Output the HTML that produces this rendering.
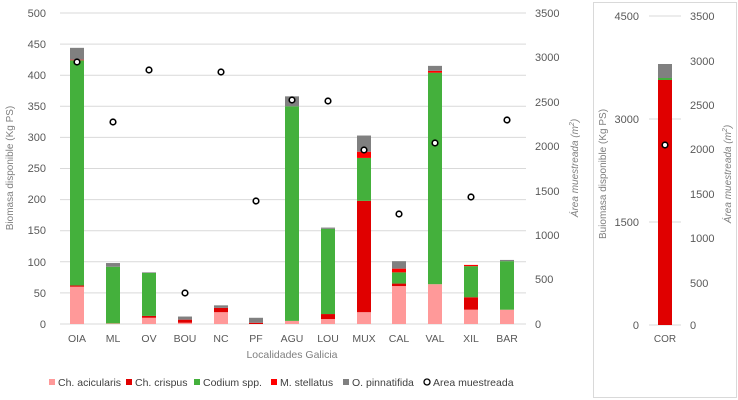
<!DOCTYPE html>
<html><head><meta charset="utf-8">
<style>
html,body{margin:0;padding:0;background:#fff;}
svg{display:block;font-family:"Liberation Sans",sans-serif;}
</style></head><body>
<svg id="s" width="738" height="400" viewBox="0 0 738 400" xmlns="http://www.w3.org/2000/svg">
<rect x="0" y="0" width="738" height="400" fill="#fff"/>
<g id="grid" stroke="#d9d9d9" stroke-width="1"></g>
<g id="bars"></g>
<g id="dots" fill="#fff" stroke="#000" stroke-width="1.6"></g>
<g font-size="11" fill="#595959" text-anchor="end">
<text x="46" y="17">500</text><text x="46" y="48">450</text><text x="46" y="79">400</text>
<text x="46" y="110">350</text><text x="46" y="141">300</text><text x="46" y="172">250</text>
<text x="46" y="203">200</text><text x="46" y="234">150</text><text x="46" y="266">100</text>
<text x="46" y="297">50</text><text x="46" y="328">0</text>
</g>
<g font-size="11" fill="#595959" text-anchor="start">
<text x="535" y="17">3500</text><text x="535" y="61">3000</text><text x="535" y="106">2500</text>
<text x="535" y="150">2000</text><text x="535" y="195">1500</text><text x="535" y="239">1000</text>
<text x="535" y="283">500</text><text x="535" y="328">0</text>
</g>
<g font-size="10.5" fill="#595959" text-anchor="middle">
<text x="77" y="342">OIA</text><text x="113" y="342">ML</text><text x="149" y="342">OV</text>
<text x="185" y="342">BOU</text><text x="221" y="342">NC</text><text x="256" y="342">PF</text>
<text x="292" y="342">AGU</text><text x="328" y="342">LOU</text><text x="364" y="342">MUX</text>
<text x="399" y="342">CAL</text><text x="435" y="342">VAL</text><text x="471" y="342">XIL</text>
<text x="507" y="342">BAR</text>
<text x="292" y="358" font-size="10.5" fill="#7f7f7f">Localidades Galicia</text>
</g>
<text transform="translate(13,168) rotate(-90)" font-size="10" fill="#7f7f7f" text-anchor="middle">Biomasa disponible (Kg PS)</text>
<text transform="translate(578,168) rotate(-90)" font-size="10" fill="#7f7f7f" text-anchor="middle" font-style="italic">Área muestreada (m<tspan font-size="7" dy="-4">2</tspan><tspan dy="4">)</tspan></text>
<!-- legend -->
<g font-size="10.5" fill="#404040">
<rect x="49" y="379" width="6" height="6" fill="#ff9999"/><text x="58" y="386">Ch. acicularis</text>
<rect x="126" y="379" width="6" height="6" fill="#e00000"/><text x="135" y="386">Ch. crispus</text>
<rect x="194" y="379" width="6" height="6" fill="#44b03c"/><text x="203" y="386">Codium spp.</text>
<rect x="271" y="379" width="6" height="6" fill="#ff0000"/><text x="280" y="386">M. stellatus</text>
<rect x="343" y="379" width="6" height="6" fill="#808080"/><text x="352" y="386">O. pinnatifida</text>
<circle cx="427" cy="382" r="3" fill="#fff" stroke="#000" stroke-width="1.3"/><text x="433" y="386">Area muestreada</text>
</g>
<!-- right panel -->
<rect x="593.5" y="2.5" width="143" height="395" fill="none" stroke="#d9d9d9"/>
<g stroke="#d9d9d9"><line x1="649" x2="681" y1="16" y2="16"/><line x1="649" x2="681" y1="119" y2="119"/><line x1="649" x2="681" y1="222" y2="222"/><line x1="649" x2="681" y1="325" y2="325"/></g>
<rect x="658" y="64" width="14" height="14" fill="#808080"/>
<rect x="658" y="78" width="14" height="2" fill="#44b03c"/>
<rect x="658" y="80" width="14" height="245" fill="#e00000"/>
<circle cx="665" cy="145" r="2.8" fill="#fff" stroke="#000" stroke-width="1.6"/>
<g font-size="11" fill="#595959" text-anchor="end">
<text x="639" y="20">4500</text><text x="639" y="123">3000</text><text x="639" y="226">1500</text><text x="639" y="329">0</text>
</g>
<g font-size="11" fill="#595959">
<text x="690" y="20">3500</text><text x="690" y="65">3000</text><text x="690" y="109">2500</text>
<text x="690" y="153">2000</text><text x="690" y="198">1500</text><text x="690" y="242">1000</text>
<text x="690" y="287">500</text><text x="690" y="329">0</text>
</g>
<text x="665" y="342" font-size="10" fill="#595959" text-anchor="middle">COR</text>
<text transform="translate(606,174) rotate(-90)" font-size="10" fill="#7f7f7f" text-anchor="middle">Buiomasa disponible (Kg PS)</text>
<text transform="translate(731,174) rotate(-90)" font-size="10" fill="#7f7f7f" text-anchor="middle" font-style="italic">Área muestreada (m<tspan font-size="7" dy="-4">2</tspan><tspan dy="4">)</tspan></text>
</svg>
<script>
var NS="http://www.w3.org/2000/svg";
function el(p,t,a){var e=document.createElementNS(NS,t);for(var k in a)e.setAttribute(k,a[k]);p.appendChild(e);return e;}
var g=document.getElementById("grid");
for(var i=0;i<=10;i++){var y=324-i*31.1;el(g,"line",{x1:60,x2:526,y1:y.toFixed(1),y2:y.toFixed(1)});}
var C={p:"#ff9999",r:"#e00000",g:"#44b03c",m:"#ff0000",o:"#808080"};
var xs=[77,113,149,185,221,256,292,328,364,399,435,471,507];
var D=[
[["p",60],["r",2],["g",362],["m",1],["o",19]],
[["p",1],["g",91],["o",6]],
[["p",10],["r",3],["g",69],["o",1]],
[["p",2],["r",5],["o",5]],
[["p",19],["r",7],["o",4]],
[["r",2],["o",8]],
[["p",5],["g",345],["o",16]],
[["p",8],["r",8],["g",137],["o",2]],
[["p",19],["r",179],["g",69],["m",10],["o",26]],
[["p",61],["r",4],["g",18],["m",6],["o",12]],
[["p",64],["g",340],["m",3],["o",8]],
[["p",23],["r",20],["g",50],["m",2]],
[["p",23],["g",78],["o",2]]];
var b=document.getElementById("bars");
var k=0.622;
D.forEach(function(s,i){var c=0;s.forEach(function(q){var y0=324-c*k,y1=324-(c+q[1])*k;el(b,"rect",{x:xs[i]-7,y:y1.toFixed(2),width:14,height:(y0-y1).toFixed(2),fill:C[q[0]]});c+=q[1];});});
var dy=[62,122,70,293,72,201,100,101,150,214,143,197,120];
var d=document.getElementById("dots");
dy.forEach(function(y,i){el(d,"circle",{cx:xs[i],cy:y,r:2.8});});
</script>
</body></html>
